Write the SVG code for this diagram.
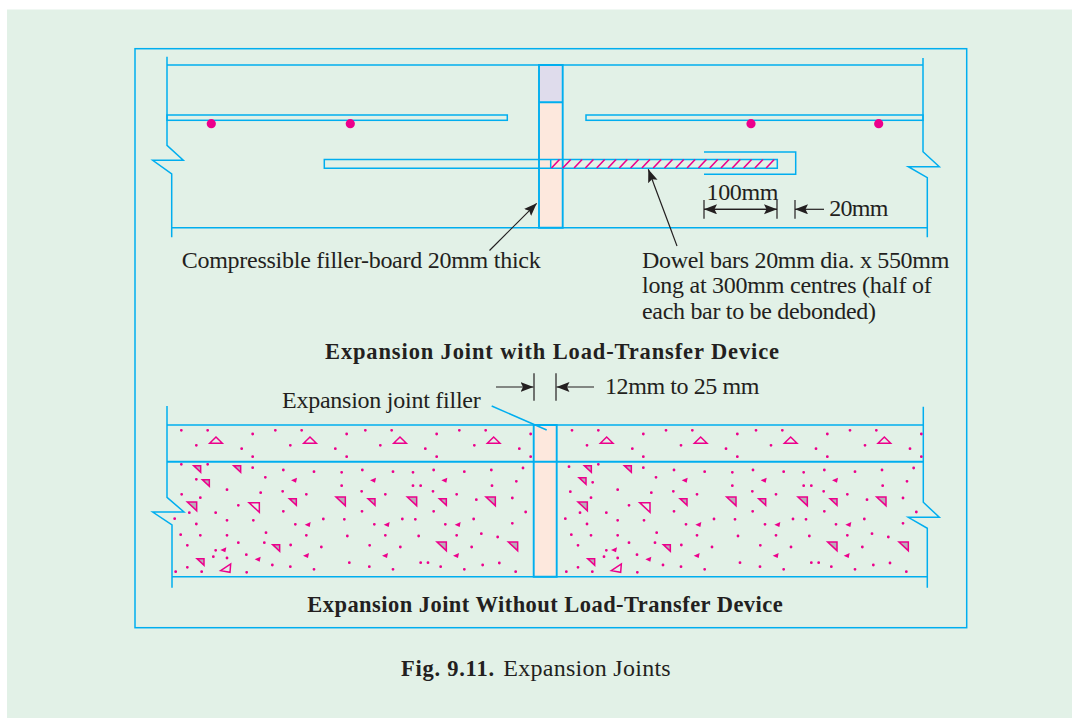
<svg xmlns="http://www.w3.org/2000/svg" width="1072" height="718" viewBox="0 0 1072 718">
<style>
.c{fill:none;stroke:#00aeef;stroke-width:1.5}
.ct{stroke-width:1.9}
.ld{fill:none;stroke:#231f20;stroke-width:1.2}
.t{font-family:"Liberation Serif","Times New Roman",serif;font-size:24px;fill:#231f20}
.b{font-weight:bold;font-size:22.5px}
.dots{fill:none;stroke:#ec008c;stroke-width:8.500;stroke-linecap:round}
.tr{fill:none;stroke:#ec008c;stroke-width:4.500;stroke-linejoin:miter}
.g{fill:#b9aeb8}
.f{fill:#ec008c;stroke:none}
.ball{fill:#ec008c}
.h{fill:none;stroke:#ec008c;stroke-width:1.600}
</style>
<defs>
<marker id="ah" markerUnits="userSpaceOnUse" markerWidth="14" markerHeight="12" refX="13" refY="5" orient="auto">
<path d="M0 0L13 5L0 10L2.500 5Z" fill="#231f20"/>
</marker>
<path id="tu" class="tr" d="M-19 8L0-11L19 8Z"/>
<path id="ts" class="tr g" d="M-11-9H10V11Z"/>
<path id="tl" class="tr g" d="M-15-12H13V14Z"/>
<path id="th" class="tr" d="M-16-13H15V16Z"/>
<path id="ta" class="tr" d="M-16 7L14-13L12 12Z"/>
<path id="tf" class="f" d="M-9 1L9-7L6 8Z"/>
<g id="concrete">
<path class="dots" d="M203 106h0M338 117h0M406 106h0M485 106h0M620 117h0M676 106h0M755 106h0M890 117h0M958 106h0M1037 106h0M1172 117h0M124 106h0M169 151h0M305 161h0M338 185h0M451 151h0M586 161h0M620 185h0M721 151h0M856 161h0M890 185h0M1003 151h0M1138 161h0M1172 185h0M203 208h0M338 218h0M430 225h0M522 230h0M605 232h0M667 225h0M759 230h0M819 232h0M881 225h0M973 230h0M1054 225h0M1149 219h0M376 247h0M605 272h0M819 272h0M842 272h0M1056 272h0M1129 259h0M181 308h0M261 284h0M362 293h0M428 289h0M499 298h0M665 289h0M736 298h0M879 289h0M950 298h0M1009 314h0M1117 309h0M295 331h0M430 349h0M666 349h0M881 349h0M1157 351h0M148 353h0M227 353h0M104 371h0M169 387h0M261 376h0M340 376h0M466 388h0M550 372h0M613 373h0M703 388h0M787 372h0M826 373h0M916 388h0M1001 372h0M1117 385h0M122 419h0M181 421h0M261 421h0M378 413h0M499 421h0M622 423h0M736 421h0M836 423h0M950 421h0M1024 416h0M1073 426h0M142 451h0M295 443h0M373 443h0M452 450h0M544 456h0M689 451h0M781 456h0M995 456h0M227 466h0M220 485h0M261 489h0M319 479h0M142 517h0M397 510h0M451 515h0M628 503h0M688 515h0M759 523h0M842 503h0M864 503h0M902 515h0M973 523h0M1028 510h0M1078 504h0M107 530h0M185 530h0M320 532h0M522 523h0M1127 530h0"/>
<use href="#tu" x="228" y="137"/><use href="#tu" x="510" y="137"/><use href="#tu" x="780" y="137"/><use href="#tu" x="1061" y="137"/>
<use href="#ts" x="172" y="221"/><use href="#ts" x="292" y="221"/><use href="#ts" x="459" y="320"/><use href="#ts" x="695" y="320"/><use href="#ts" x="909" y="320"/><use href="#ts" x="409" y="458"/><use href="#ts" x="182" y="500"/>
<use href="#tl" x="157" y="333"/><use href="#tl" x="603" y="318"/><use href="#tl" x="817" y="318"/><use href="#tl" x="1053" y="318"/><use href="#tl" x="906" y="453"/><use href="#tl" x="1120" y="453"/>
<use href="#th" x="343" y="336"/><use href="#ta" x="258" y="520"/>
<use href="#tf" x="250" y="464"/><use href="#tf" x="353" y="492"/><use href="#tf" x="462" y="255"/><use href="#tf" x="503" y="388"/><use href="#tf" x="498" y="481"/><use href="#tf" x="699" y="255"/><use href="#tf" x="740" y="388"/><use href="#tf" x="735" y="481"/><use href="#tf" x="913" y="255"/><use href="#tf" x="953" y="388"/><use href="#tf" x="948" y="481"/>
</g>
</defs>
<rect width="1072" height="718" fill="#fff"/>
<rect x="7" y="9.500" width="1065" height="708.500" fill="#e2f1e7"/>
<rect id="frame" class="c" x="135" y="48.700" width="831.700" height="579"/>

<g id="slab-top">
<path class="c" d="M167 65H923M167 56.700V145.300L183.300 160.300H152.700L171.700 174V237.300M171.700 227.700H927.300M923 58V151.700L939.300 166.700H908.300L927.300 177.700V237.300"/>
</g>
<g id="joint-top">
<rect x="539" y="65" width="23.700" height="37.300" fill="#dfdcec"/>
<rect x="539" y="102.300" width="23.700" height="125.400" fill="#fde8dd"/>
<path class="c ct" d="M539 65H562.700V227.700H539ZM539 102.300H562.700"/>
</g>
<g id="rebar-left">
<rect class="c" x="167" y="115" width="340.300" height="5.300"/>
<circle class="ball" cx="211.300" cy="123.700" r="4.600"/><circle class="ball" cx="350.300" cy="123.700" r="4.600"/>
</g>
<g id="rebar-right">
<rect class="c" x="586" y="115" width="337" height="5.300"/>
<circle class="ball" cx="751" cy="123.700" r="4.600"/><circle class="ball" cx="878.700" cy="123.700" r="4.600"/>
</g>
<g id="dowel">
<path class="c" d="M324.300 159.500H777.300V168.300H324.300ZM550.700 159.500V168.300M704 152H795.700V174.300H704"/>
<path class="h" d="M551.500 168l8-8.500m3.300 8.500l8-8.500m3.300 8.500l8-8.500m3.300 8.500l8-8.500m3.300 8.500l8-8.500m3.300 8.500l8-8.500m3.300 8.500l8-8.500m3.300 8.500l8-8.500m3.300 8.500l8-8.500m3.300 8.500l8-8.500m3.300 8.500l8-8.500m3.300 8.500l8-8.500m3.300 8.500l8-8.500m3.300 8.500l8-8.500m3.300 8.500l8-8.500m3.300 8.500l8-8.500m3.300 8.500l8-8.500m3.300 8.500l8-8.500m3.300 8.500l8-8.500m3.300 8.500l8-8.500"/>
</g>

<g id="slab-bottom">
<path class="c" d="M167 425H923.300M172 576.700H927.300M167 406V497.300L184 512H152.700L172 525V587.700M923.300 406.700V502.300L939.300 517.300H908.300L927.300 528.300V587.700"/>
</g>
<g id="concrete-left" transform="translate(140 395) scale(.33333)"><use href="#concrete"/>
<path class="dots" d="M124 208h0M169 253h0M125 298h0"/><use href="#ts" x="198" y="263"/></g>
<g id="concrete-right" transform="translate(530.670 395) scale(.33333)"><use href="#concrete"/>
<path class="dots" d="M115 215h0M186 262h0M119 290h0"/><use href="#ts" x="156" y="257"/></g>
<g id="joint-bottom">
<rect x="533.700" y="425" width="23" height="151.700" fill="#fde8dd"/>
<path class="c ct" d="M533.700 425H556.700V576.700H533.700Z"/>
<path class="c ct" d="M167 461.700H923.300"/>
</g>

<g id="connectors">
<path class="ld" marker-end="url(#ah)" d="M489.500 250.500L536.700 203.300"/>
<path class="ld" marker-end="url(#ah)" d="M677 246L648.300 169.300"/>
<path class="ld" marker-end="url(#ah)" d="M777 209.300H704"/>
<path class="ld" marker-end="url(#ah)" d="M704 209.300H777"/>
<path class="ld" d="M704 200V218.700M777 200V218.700"/>
<path class="ld" marker-end="url(#ah)" d="M824 209.300H795"/>
<path class="ld" d="M795 200V218.700"/>
<path class="ld" marker-end="url(#ah)" d="M496 387H533.500"/>
<path class="ld" marker-end="url(#ah)" d="M594 387H556.500"/>
<path class="ld" d="M534 373.300V400.700M556 373.300V400.700"/>
<path class="c" d="M491.700 406L546.700 430"/>
</g>

<g id="labels">
<text class="t" x="706.500" y="200" textLength="72">100mm</text>
<text class="t" x="829.300" y="216" textLength="59">20mm</text>
<text class="t" x="181.700" y="268.300" textLength="359">Compressible filler-board 20mm thick</text>
<text class="t" x="642" y="267.700" textLength="307.300">Dowel bars 20mm dia. x 550mm</text>
<text class="t" x="642" y="293.400" textLength="289.700">long at 300mm centres (half of</text>
<text class="t" x="642" y="319.300" textLength="234">each bar to be debonded)</text>
<text class="t b" x="325" y="359" textLength="454">Expansion Joint with Load-Transfer Device</text>
<text class="t" x="605" y="394.300" textLength="154.300">12mm to 25 mm</text>
<text class="t" x="282" y="408.300" textLength="198.700">Expansion joint filler</text>
<text class="t b" x="307.300" y="611.700" textLength="475.400">Expansion Joint Without Load-Transfer Device</text>
<text class="t b" x="401" y="676" textLength="93">Fig. 9.11.</text>
<text class="t" x="503.300" y="676" textLength="167.400">Expansion Joints</text>
</g>
</svg>
